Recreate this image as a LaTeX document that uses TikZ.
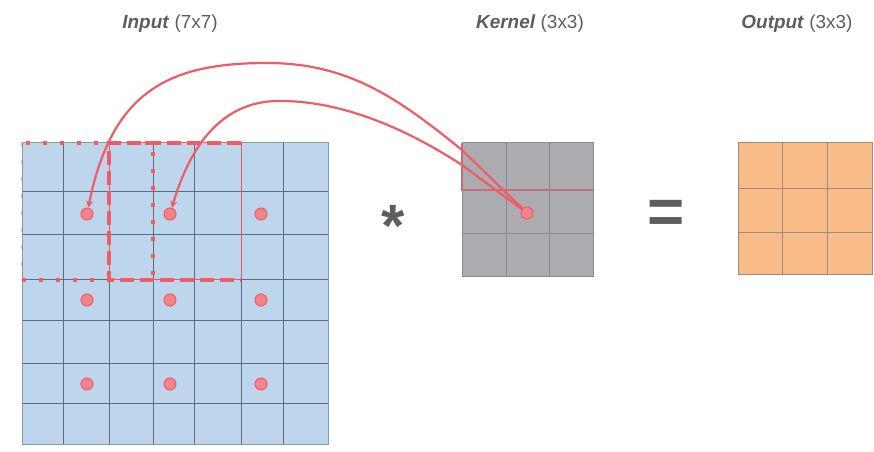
\documentclass[tikz,border=0pt]{standalone}
\usepackage{fontspec}
\setmainfont{Liberation Sans}
\usetikzlibrary{arrows.meta}
\definecolor{inblue}{HTML}{BED6EC}
\definecolor{ingrid}{HTML}{5A6D80}
\definecolor{kgray}{HTML}{ACACB0}
\definecolor{kgrid}{HTML}{8A8A90}
\definecolor{outor}{HTML}{F9BB87}
\definecolor{ogrid}{HTML}{9A8A7E}
\definecolor{hl}{HTML}{EF5B66}
\definecolor{txt}{HTML}{5E5E5E}
\begin{document}
\begin{tikzpicture}[x=1bp,y=-1bp,
  lab/.style={text=txt,font=\fontsize{19}{19}\selectfont,inner sep=0pt},
  bigsym/.style={text=txt,inner sep=0pt,anchor=base},
  dotn/.style={circle,minimum size=12bp,inner sep=0pt,fill=hl!75,draw=hl,line width=1bp},
  conn/.style={draw=hl,line width=2.2bp,-{Stealth[length=7bp,width=7bp]}},
  gridin/.style={ingrid,line width=1bp},
  gridk/.style={kgrid,line width=1bp},
  grido/.style={ogrid,line width=1bp},
  winA/.style={hl,line width=3.5bp,dash pattern=on 4bp off 13bp},
  winB/.style={hl,line width=3.5bp,dash pattern=on 14bp off 6bp},
  thinred/.style={hl,line width=1bp}]
\useasboundingbox (0,0) rectangle (874,452);
\fill[white] (0,0) rectangle (874,452);

% labels
\node[lab] (linput) at (170,24) {\textbf{\textit{Input}} (7x7)};
\node[lab] (lkernel) at (530,24) {\textbf{\textit{Kernel}} (3x3)};
\node[lab] (loutput) at (797,24) {\textbf{\textit{Output}} (3x3)};

% input grid
\fill[inblue] (22,143) rectangle (328,444);
\foreach \x in {63,109,153,194,241,283} \draw[gridin] (\x,143) -- (\x,444);
\foreach \y in {192,235,280,321,364,403} \draw[gridin] (22,\y) -- (328,\y);
\draw[gridin,draw=ingrid!70] (22,143) rectangle (328,444);

% windows
\draw[thinred,opacity=.85] (109,143) rectangle (241,280);
\draw[winB] (241,143) -- (109,143) -- (109,280) -- (241,280);
\draw[winA] (22,280) -- (153,280) -- (153,143) -- (22,143);
\draw[winA,opacity=.45,line width=1.5bp] (22,143) -- (22,280);

% dots
\node[dotn] (d1) at (87,214) {};
\node[dotn] (d2) at (170,214) {};
\node[dotn] (d3) at (261,214) {};
\node[dotn] (d4) at (87,300) {};
\node[dotn] (d5) at (170,300) {};
\node[dotn] (d6) at (261,300) {};
\node[dotn] (d7) at (87,384) {};
\node[dotn] (d8) at (170,384) {};
\node[dotn] (d9) at (261,384) {};

% operator symbols
\node[bigsym,font=\fontsize{60}{60}\selectfont\bfseries] (star) at (393,247) {*};
\node[bigsym,font=\fontsize{64}{64}\selectfont\bfseries] (eq) at (666,234) {=};

% kernel
\fill[kgray] (462,143) rectangle (593,277);
\foreach \x in {506,549} \draw[gridk] (\x,143) -- (\x,277);
\foreach \y in {190,234} \draw[gridk] (462,\y) -- (593,\y);
\draw[gridk] (462,143) rectangle (593,277);
\draw[thinred,draw=hl!65!kgrid,line width=1.3bp] (462,143) -- (462,190) -- (593,190);
\node[dotn] (kd) at (527,213) {};

% output
\fill[outor] (738,143) rectangle (872,275);
\foreach \x in {782,827} \draw[grido] (\x,143) -- (\x,275);
\foreach \y in {189,233} \draw[grido] (738,\y) -- (872,\y);
\draw[grido] (738,143) rectangle (872,275);

% connectors
\draw[conn] (kd) -- (462,150) .. controls (400,100) and (350,63) .. (267,63) .. controls (170,63) and (112,90) .. (d1);
\draw[conn] (kd) -- (462,165) .. controls (405,128) and (340,100) .. (277,101) .. controls (225,102) and (192,140) .. (d2);
\end{tikzpicture}
\end{document}
